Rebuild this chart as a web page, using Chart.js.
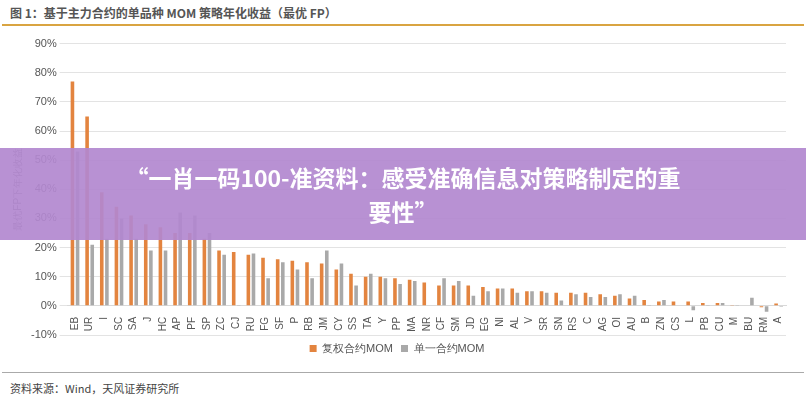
<!DOCTYPE html>
<html><head><meta charset="utf-8">
<script src="https://cdn.jsdelivr.net/npm/chart.js@4"></script>
<style>
body{margin:0;width:806px;height:400px;background:#fff;font-family:"Noto Sans CJK SC","Noto Sans",sans-serif;position:relative;overflow:hidden}
#title{position:absolute;left:10px;top:4px;font-size:12px;font-weight:bold;color:#555}
#tline{position:absolute;left:2px;right:2px;top:24px;height:2px;background:#d9a441}
#wrap{position:absolute;left:0;top:34px;width:806px;height:330px}
#bline{position:absolute;left:2px;right:2px;top:372px;height:1px;background:#aaa}
#src{position:absolute;left:10px;top:380px;font-size:11px;color:#444}
#banner{position:absolute;left:0;top:148px;width:806px;height:92px;background:rgba(178,136,207,0.92);color:#fff;font-weight:bold;font-size:23px;text-align:center;line-height:34px;padding-top:12px;box-sizing:border-box}
</style></head><body>
<div id="title">图 1：基于主力合约的单品种 MOM 策略年化收益（最优 FP）</div>
<div id="tline"></div>
<div id="wrap"><canvas id="c"></canvas></div>
<div id="bline"></div>
<div id="src">资料来源：Wind，天风证券研究所</div>
<div id="banner">“一肖一码100-准资料：感受准确信息对策略制定的重<br>要性”</div>
<script>
const categories = ["EB","UR","I","SC","SA","J","HC","AP","PF","SP","ZC","CJ","RU","FG","SF","P","RB","JM","CY","SS","TA","Y","PP","MA","NR","CF","SM","JD","EG","NI","AL","V","SR","SN","RS","C","AG","OI","AU","B","ZN","CS","L","PB","CU","M","BU","RM","A"];
const compoundMom = [77,65,39,34,31,28,27,25,25,23,19,18.5,17.5,16.5,16,15.5,15,14.5,12.5,11,10,10,9.5,9,8,7,7,7,6.5,6,6,5,5,4.5,4.5,4.5,4,3.5,2.5,2,1.5,1.5,1.5,1,1,0.3,0.2,-0.5,0.8];
const singleMom = [53,21,23,30,23,19,19,32,31,25,17.5,0.3,18,9.5,15,12.5,9.5,19,14.5,7,11,9.5,7.5,8.5,0.2,9.5,8.5,3.5,5,6,4.5,5,4.5,1.8,4,3,3,4,3.5,0.3,2,0.2,-1.5,0.3,1,0.3,2.8,-2,-0.3];
const yTicks = [-10,0,10,20,30,40,50,60,70,80,90];

new Chart(document.getElementById("c"), {
  type: "bar",
  data: {
    labels: categories,
    datasets: [
      { label: "复权合约MOM", data: compoundMom, backgroundColor: "#e3843f", barPercentage: 0.7, categoryPercentage: 0.7 },
      { label: "单一合约MOM", data: singleMom, backgroundColor: "#a9a9a9", barPercentage: 0.7, categoryPercentage: 0.7 }
    ]
  },
  options: {
    responsive: true,
    maintainAspectRatio: false,
    animation: false,
    layout: { padding: { left: 8, right: 20, top: 6 } },
    plugins: {
      legend: { position: "bottom", labels: { boxWidth: 7, boxHeight: 7, color: "#555", font: { size: 11 }, padding: 8 } },
      tooltip: { enabled: false }
    },
    scales: {
      x: {
        position: { y: 0 },
        ticks: { color: "#555", font: { size: 10 }, minRotation: 90, maxRotation: 90, autoSkip: false },
        grid: { display: false },
        border: { color: "#d9d9d9" }
      },
      y: {
        min: -10, max: 90,
        afterBuildTicks: s => { s.ticks = yTicks.map(v => ({ value: v })) },
        ticks: { callback: v => v + "%", color: "#555", font: { size: 11 } },
        grid: { color: "#e3e3e3" },
        border: { display: false },
        title: { display: true, text: "最优FP下年化收益", color: "#777", font: { size: 10 } }
      }
    }
  }
});
</script>
</body></html>
